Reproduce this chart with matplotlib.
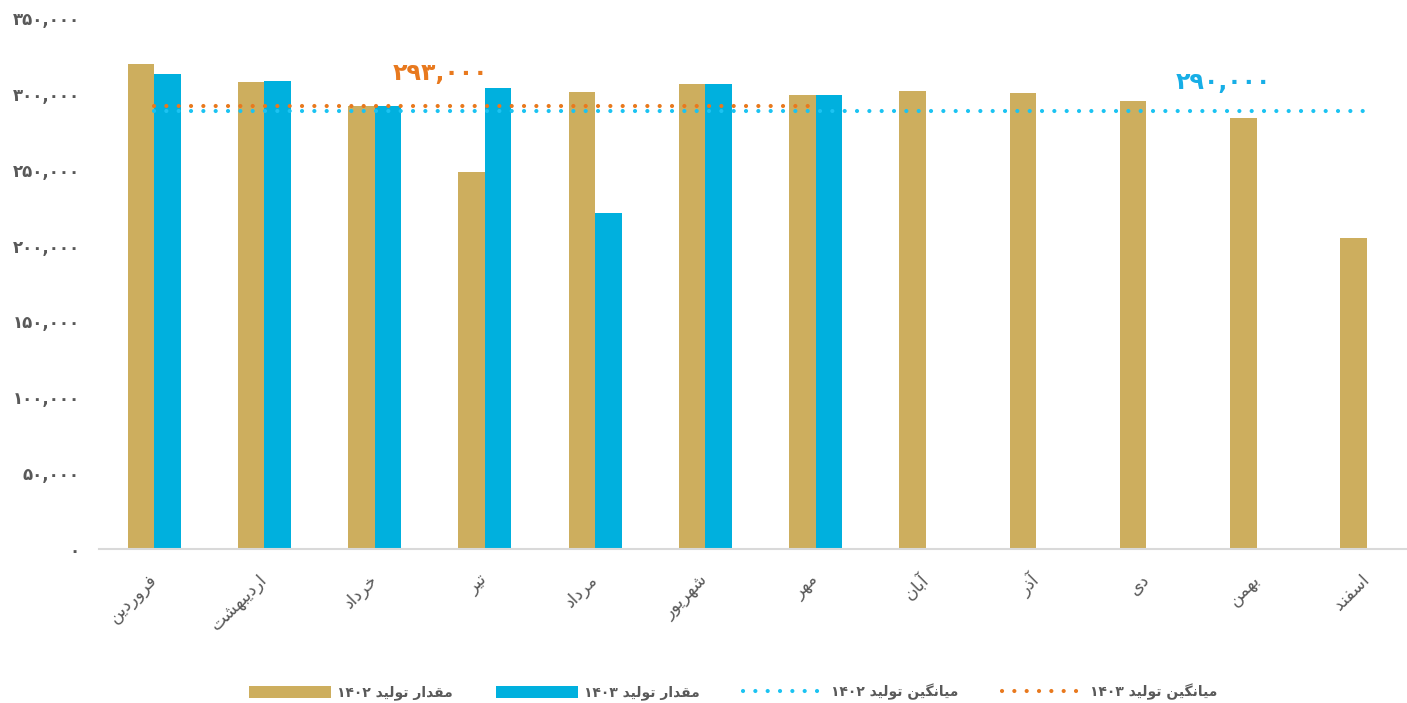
import matplotlib
matplotlib.use("Agg")
import matplotlib.pyplot as plt
import matplotlib.transforms as mtransforms
import numpy as np
from matplotlib.lines import Line2D
from matplotlib.patches import Patch

# ---------------- data ----------------
months = ["فروردین", "اردیبهشت", "خرداد", "تیر", "مرداد", "شهریور",
          "مهر", "آبان", "آذر", "دی", "بهمن", "اسفند"]
prod_1402 = [319500, 307500, 292000, 248700, 301000, 306200,
             299400, 302000, 300300, 295400, 284200, 204800]
prod_1403 = [313300, 308700, 292000, 304000, 221400, 306200, 299400]
avg_1402 = 288500
avg_1403 = 292300
avg_1402_label = "۲۹۰,۰۰۰"
avg_1403_label = "۲۹۳,۰۰۰"
yticks = [0, 50000, 100000, 150000, 200000, 250000, 300000, 350000]
legend_labels = ["مقدار تولید ۱۴۰۲", "مقدار تولید ۱۴۰۳",
                 "میانگین تولید ۱۴۰۲", "میانگین تولید ۱۴۰۳"]

# ------------- minimal Persian shaping -------------
FORMS = {  # isolated, final, initial, medial
    'ا': ('\uFE8D', '\uFE8E', None, None),
    'آ': ('\uFE81', '\uFE82', None, None),
    'د': ('\uFEA9', '\uFEAA', None, None),
    'ذ': ('\uFEAB', '\uFEAC', None, None),
    'ر': ('\uFEAD', '\uFEAE', None, None),
    'ز': ('\uFEAF', '\uFEB0', None, None),
    'و': ('\uFEED', '\uFEEE', None, None),
    'ب': ('\uFE8F', '\uFE90', '\uFE91', '\uFE92'),
    'ت': ('\uFE95', '\uFE96', '\uFE97', '\uFE98'),
    'خ': ('\uFEA5', '\uFEA6', '\uFEA7', '\uFEA8'),
    'س': ('\uFEB1', '\uFEB2', '\uFEB3', '\uFEB4'),
    'ش': ('\uFEB5', '\uFEB6', '\uFEB7', '\uFEB8'),
    'ف': ('\uFED1', '\uFED2', '\uFED3', '\uFED4'),
    'ق': ('\uFED5', '\uFED6', '\uFED7', '\uFED8'),
    'ل': ('\uFEDD', '\uFEDE', '\uFEDF', '\uFEE0'),
    'م': ('\uFEE1', '\uFEE2', '\uFEE3', '\uFEE4'),
    'ن': ('\uFEE5', '\uFEE6', '\uFEE7', '\uFEE8'),
    'ه': ('\uFEE9', '\uFEEA', '\uFEEB', '\uFEEC'),
    'ی': ('\uFBFC', '\uFBFD', '\uFBFE', '\uFBFF'),
    'گ': ('\uFB92', '\uFB93', '\uFB94', '\uFB95'),
}


def joins_next(c):
    return c in FORMS and FORMS[c][2] is not None


def shape_word(w):
    out = []
    for i, c in enumerate(w):
        if c not in FORMS:
            out.append(c)
            continue
        prev_j = i > 0 and joins_next(w[i - 1])
        next_j = i < len(w) - 1 and w[i + 1] in FORMS and joins_next(c)
        iso, fin, ini, med = FORMS[c]
        if prev_j and next_j:
            out.append(med)
        elif prev_j:
            out.append(fin)
        elif next_j:
            out.append(ini)
        else:
            out.append(iso)
    return out


def fa(text):
    words = text.split(" ")
    vis = []
    for w in words:
        if any(ch in FORMS for ch in w):
            vis.append("".join(reversed(shape_word(w))))
        else:
            vis.append(w)
    return " ".join(reversed(vis))


def fa_digits(n):
    s = f"{n:,}"
    return s.translate(str.maketrans("0123456789", "۰۱۲۳۴۵۶۷۸۹"))


# ---------------- style ----------------
plt.rcParams['font.family'] = ['DejaVu Sans']
GOLD = "#CDAE5E"
BLUE = "#00B0DE"
DOT_BLUE = "#1BC3F2"
DOT_ORANGE = "#E8791E"
GRAY = "#595959"

fig = plt.figure(figsize=(14.07, 7.03), dpi=100)
ax = fig.add_axes([99 / 1407, (703 - 549) / 703, 1323 / 1407, (549 - 18) / 703])

x = np.arange(len(months))
w = 0.24
ax.bar(x[:len(prod_1402)] - w / 2, prod_1402, width=w, color=GOLD, zorder=2)
ax.bar(x[:len(prod_1403)] + w / 2, prod_1403, width=w, color=BLUE, zorder=2)

dot_style = dict(linewidth=3.0, linestyle=(0, (0.01, 2.95)),
                 dash_capstyle='round', zorder=3)
ax.plot(x, [avg_1402] * len(x), color=DOT_BLUE, **dot_style)
ax.plot(x[:len(prod_1403)], [avg_1403] * len(prod_1403), color=DOT_ORANGE, **dot_style)

ax.text(2.6, 314000, avg_1403_label, color=DOT_ORANGE, fontsize=17,
        fontweight='bold', ha='center', va='center')
ax.text(9.7, 308000, avg_1402_label, color="#17AEE6", fontsize=17,
        fontweight='bold', ha='center', va='center')

ax.set_xlim(-0.5, len(months) - 0.5)
ax.set_ylim(0, 350000)
ax.set_yticks(yticks)
ax.set_yticklabels([fa_digits(v) for v in yticks], color=GRAY,
                   fontsize=12, fontweight='bold')
ax.set_xticks(x)
ax.set_xticklabels([fa(m) for m in months], rotation=45, ha='right', va='center',
                   rotation_mode='anchor', color=GRAY, fontsize=12.5)
shift = mtransforms.ScaledTranslation(-5 / 100, -2 / 100, fig.dpi_scale_trans)
for lbl in ax.get_xticklabels():
    lbl.set_transform(lbl.get_transform() + shift)
ax.tick_params(axis='y', length=0, pad=14)
ax.tick_params(axis='x', length=0, pad=20)
for s in ['top', 'right', 'left']:
    ax.spines[s].set_visible(False)
ax.spines['bottom'].set_color("#D9D9D9")
ax.spines['bottom'].set_linewidth(1.5)

handles = [
    Patch(facecolor=GOLD),
    Patch(facecolor=BLUE),
    Line2D([0], [0], color=DOT_BLUE, **dot_style),
    Line2D([0], [0], color=DOT_ORANGE, **dot_style),
]
fig.legend(handles, [fa(l) for l in legend_labels], loc='center',
           bbox_to_anchor=(733 / 1407, 1 - 692 / 703), ncol=4, frameon=False,
           handlelength=5.9, handleheight=1.0, handletextpad=0.45,
           columnspacing=3.1, prop={'size': 10, 'weight': 'bold'},
           labelcolor=GRAY)

fig.savefig("out.png", dpi=100)
